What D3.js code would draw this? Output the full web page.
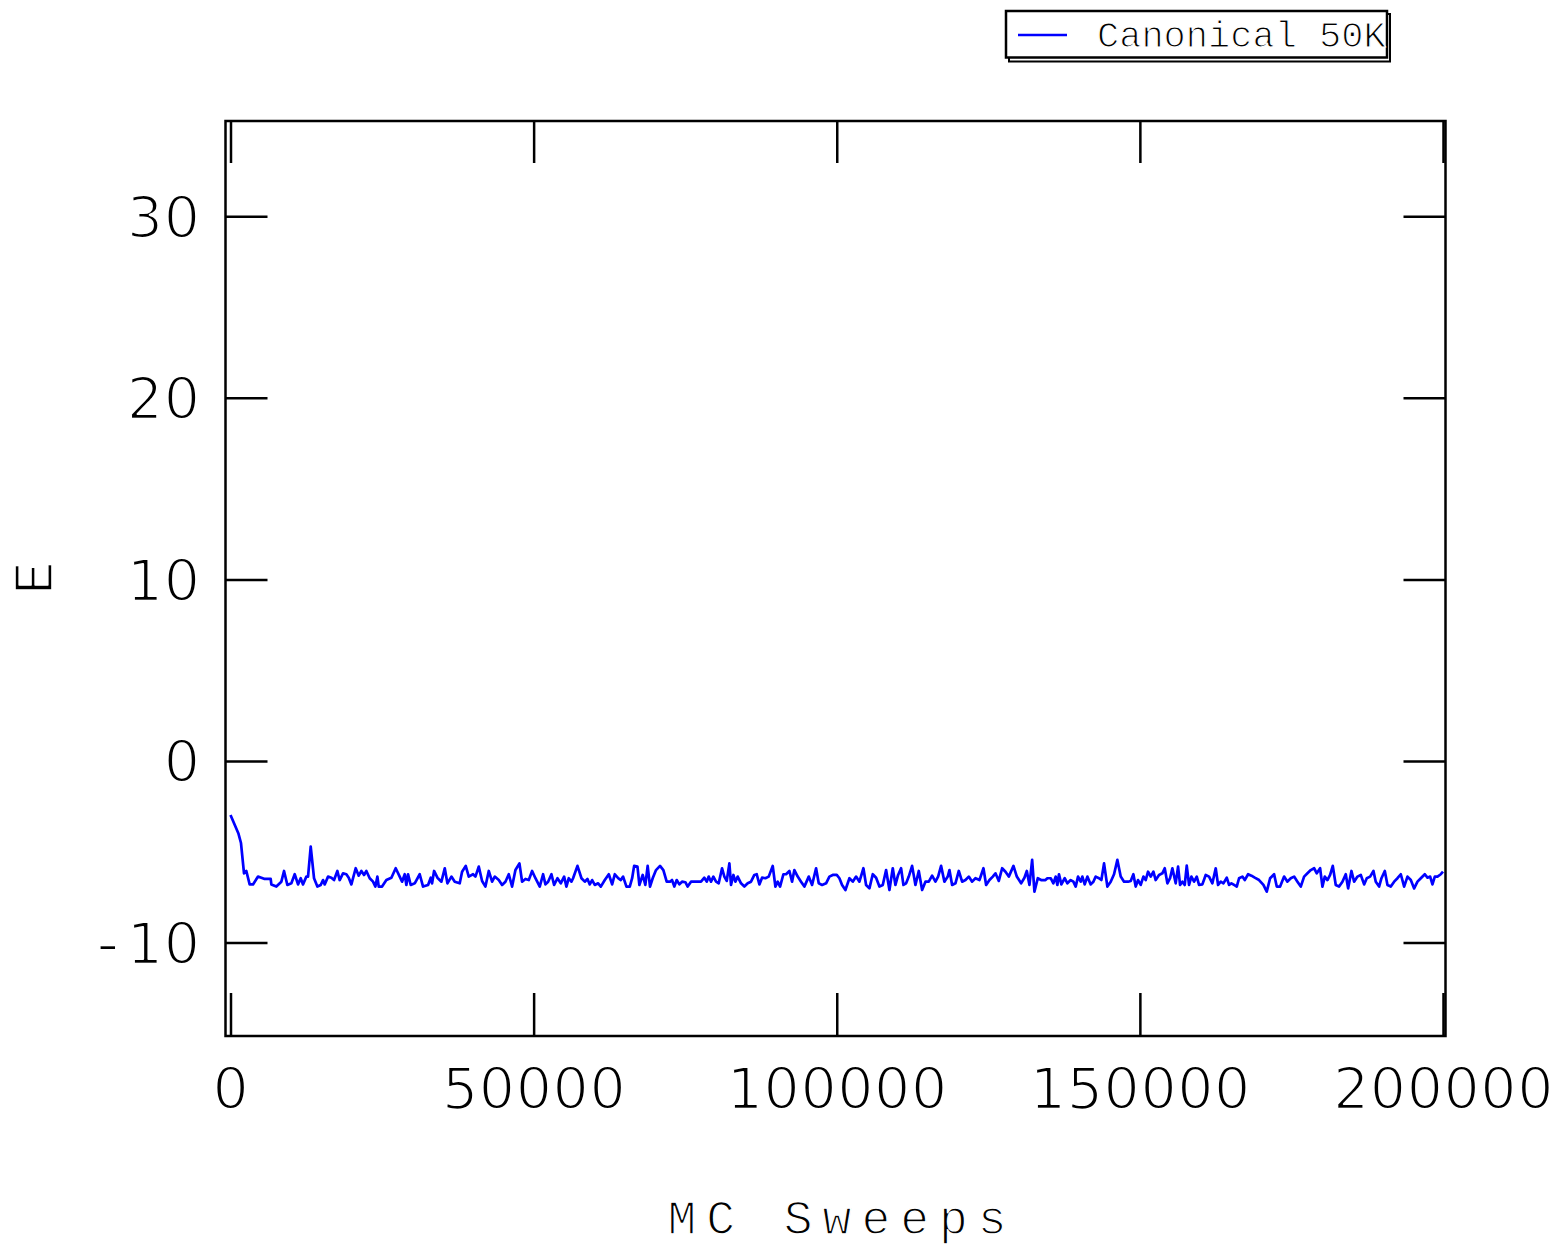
<!DOCTYPE html>
<html>
<head>
<meta charset="utf-8">
<script src="https://cdn.jsdelivr.net/npm/d3@7"></script>
<style>
body { margin: 0; background: #fff; }
</style>
</head>
<body>
<script>
// MC sweep number of each sample
const sweeps = [
  0, 1290, 1730, 2230, 2610, 3160, 3710, 4540, 5090, 5640,
  6630, 6740, 7560, 8390, 8830, 9380, 10040, 10590, 11140, 11580,
  11960, 12510, 12790, 13230, 13780, 14330, 14880, 15260, 15540, 16090,
  16640, 17080, 17630, 18010, 18560, 19110, 19500, 19940, 20650, 21150,
  21590, 22030, 22410, 22960, 23510, 23900, 24230, 24450, 25000, 25710,
  26540, 27250, 27910, 28300, 28740, 29010, 29290, 29730, 30390, 31210,
  31760, 32590, 33030, 33250, 33580, 34130, 34790, 35340, 35780, 36440,
  36990, 37810, 38200, 38800, 39300, 40010, 40400, 40950, 41500, 42050,
  42600, 43150, 43590, 44250, 44800, 45350, 45900, 46450, 47000, 47660,
  48100, 48650, 49200, 49750, 50300, 51010, 51560, 51950, 52390, 52940,
  53380, 53930, 54480, 55030, 55410, 55800, 56240, 56510, 57230, 57890,
  58440, 58880, 59260, 59650, 60090, 60640, 61080, 61740, 62400, 62950,
  63390, 63940, 64380, 64760, 65310, 65860, 66250, 66580, 67130, 67440,
  67990, 68430, 68810, 69200, 69640, 70190, 70850, 71400, 71950, 72500,
  72830, 73210, 73600, 74040, 74480, 75030, 75410, 75960, 76790, 77610,
  78160, 78550, 78880, 79260, 79650, 80090, 80530, 81080, 81460, 81850,
  82290, 82560, 82950, 83280, 83660, 84210, 84760, 85310, 85860, 86410,
  86800, 87240, 87680, 88230, 88780, 89440, 89880, 90260, 90650, 91200,
  91640, 92190, 92630, 93010, 93560, 94110, 94660, 95380, 95930, 96590,
  97030, 97580, 98240, 98790, 99340, 100000, 100440, 100880, 101430, 102090,
  102640, 103190, 103740, 104400, 104840, 105390, 105940, 106490, 107040, 107590,
  108140, 108690, 109240, 109680, 110120, 110610, 111000, 111440, 111880, 112430,
  112980, 113530, 114080, 114630, 115180, 115730, 116280, 116720, 117210, 117760,
  118310, 118590, 119030, 119580, 120130, 120680, 121230, 121780, 122330, 122880,
  123540, 124200, 124640, 125190, 125740, 126180, 126730, 127280, 127830, 128380,
  129150, 129700, 130410, 130960, 131350, 131790, 132230, 132610, 133160, 133710,
  134430, 134740, 135290, 135730, 136110, 136390, 136660, 137050, 137600, 138040,
  138590, 139030, 139410, 139800, 140240, 140510, 140900, 141340, 141890, 142330,
  142710, 143260, 143650, 144090, 144640, 145190, 145740, 146290, 146840, 147390,
  148050, 148490, 148930, 149310, 149700, 150140, 150580, 150960, 151350, 151790,
  152230, 152610, 153160, 153710, 154100, 154540, 154980, 155360, 155910, 156300,
  156630, 157010, 157400, 157730, 158110, 158500, 158940, 159380, 159760, 160310,
  160860, 161410, 161960, 162510, 162900, 163340, 163780, 164330, 164710, 165100,
  165540, 165980, 166360, 166910, 167300, 167850, 168400, 168950, 169660, 170380,
  170930, 171480, 172140, 172580, 173130, 173790, 174340, 174890, 175440, 175990,
  176540, 177090, 177640, 178190, 178740, 179180, 179730, 180110, 180500, 180940,
  181380, 181820, 182310, 182860, 183410, 183960, 184350, 184900, 185340, 185890,
  186440, 186990, 187430, 187980, 188530, 188910, 189460, 189850, 190400, 190840,
  191390, 191940, 192490, 193040, 193590, 194140, 194690, 195240, 195790, 196340,
  197000, 197440, 197880, 198260, 198650, 199090, 199640, 200000
];

// energy E at each of those sweeps
const energy = [
  -2.98, -3.98, -4.52, -6.19, -6.06, -6.80, -6.80, -6.37, -6.43, -6.50,
  -6.50, -6.80, -6.92, -6.65, -6.06, -6.83, -6.74, -6.24, -6.80, -6.46,
  -6.80, -6.37, -6.37, -4.72, -6.46, -6.92, -6.83, -6.56, -6.80, -6.37,
  -6.43, -6.56, -6.06, -6.56, -6.19, -6.24, -6.43, -6.80, -5.91, -6.32,
  -6.06, -6.28, -6.06, -6.46, -6.65, -6.92, -6.37, -6.92, -6.92, -6.56,
  -6.43, -5.91, -6.37, -6.65, -6.24, -6.83, -6.24, -6.83, -6.74, -6.24,
  -6.92, -6.83, -6.43, -6.74, -6.06, -6.43, -6.65, -5.91, -6.74, -6.37,
  -6.65, -6.74, -6.10, -5.78, -6.37, -6.24, -6.37, -5.82, -6.61, -6.92,
  -6.06, -6.65, -6.37, -6.56, -6.83, -6.65, -6.24, -6.92, -6.01, -5.64,
  -6.65, -6.50, -6.56, -6.06, -6.46, -6.92, -6.24, -6.80, -6.65, -6.24,
  -6.83, -6.46, -6.74, -6.37, -6.92, -6.46, -6.65, -6.46, -5.78, -6.46,
  -6.65, -6.50, -6.80, -6.56, -6.83, -6.74, -6.92, -6.56, -6.24, -6.80,
  -6.24, -6.46, -6.56, -6.37, -6.92, -6.92, -6.46, -5.78, -5.82, -6.83,
  -6.28, -6.83, -5.78, -6.92, -6.46, -6.01, -5.78, -6.01, -6.65, -6.65,
  -6.56, -6.92, -6.56, -6.80, -6.65, -6.68, -6.92, -6.65, -6.65, -6.65,
  -6.43, -6.65, -6.37, -6.65, -6.37, -6.65, -6.74, -5.91, -6.37, -6.61,
  -5.64, -6.83, -6.28, -6.65, -6.37, -6.74, -6.92, -6.74, -6.65, -6.28,
  -6.24, -6.80, -6.43, -6.46, -6.37, -5.78, -6.92, -6.65, -6.92, -6.24,
  -6.24, -6.06, -6.65, -6.01, -6.37, -6.65, -6.92, -6.37, -6.83, -5.91,
  -6.74, -6.83, -6.74, -6.37, -6.28, -6.28, -6.46, -6.83, -7.11, -6.46,
  -6.65, -6.37, -6.65, -5.91, -6.83, -7.02, -6.24, -6.43, -6.92, -6.83,
  -6.01, -7.11, -5.91, -6.83, -6.28, -5.91, -6.83, -6.74, -6.37, -5.78,
  -6.83, -6.06, -7.11, -6.65, -6.65, -6.32, -6.65, -6.37, -5.78, -6.65,
  -6.37, -6.01, -6.83, -6.74, -6.06, -6.65, -6.56, -6.37, -6.65, -6.46,
  -6.56, -5.91, -6.83, -6.56, -6.37, -6.19, -6.61, -5.91, -6.10, -6.37,
  -5.78, -6.37, -6.74, -6.43, -6.06, -6.83, -5.45, -7.20, -6.46, -6.56,
  -6.56, -6.46, -6.46, -6.74, -6.37, -6.83, -6.24, -6.80, -6.46, -6.74,
  -6.56, -6.65, -6.92, -6.37, -6.65, -6.37, -6.80, -6.37, -6.80, -6.65,
  -6.37, -6.46, -6.56, -5.64, -6.92, -6.65, -6.24, -5.45, -6.37, -6.65,
  -6.65, -6.61, -6.24, -6.92, -6.56, -6.83, -6.37, -6.56, -6.10, -6.37,
  -6.10, -6.56, -6.28, -6.19, -5.91, -6.74, -6.46, -5.91, -6.74, -5.82,
  -6.83, -6.65, -6.83, -5.77, -6.83, -6.37, -6.65, -6.37, -6.83, -6.80,
  -6.28, -6.37, -6.74, -5.91, -6.83, -6.65, -6.74, -6.43, -6.83, -6.74,
  -6.83, -6.92, -6.46, -6.37, -6.56, -6.24, -6.32, -6.43, -6.56, -6.83,
  -7.20, -6.46, -6.24, -6.92, -6.92, -6.37, -6.65, -6.46, -6.37, -6.65,
  -6.92, -6.37, -6.19, -6.01, -5.91, -6.19, -5.91, -6.92, -6.37, -6.56,
  -6.28, -5.78, -6.83, -6.92, -6.65, -6.24, -7.02, -6.06, -6.65, -6.37,
  -6.28, -6.80, -6.46, -6.37, -6.06, -6.65, -6.92, -6.46, -6.06, -6.83,
  -6.92, -6.65, -6.46, -6.24, -6.92, -6.37, -6.56, -7.02, -6.65, -6.46,
  -6.24, -6.43, -6.37, -6.80, -6.37, -6.37, -6.24, -6.10
];

const xTicks = [0, 50000, 100000, 150000, 200000];
const yTicks = [-10, 0, 10, 20, 30];
const seriesName = "Canonical 50K";
const xTitle = "MC Sweeps";
const yTitle = "E";

var width = 1562, height = 1260;
var frame = {left: 225.5, right: 1445.5, top: 121, bottom: 1036};
var monoFont = "'Liberation Mono', 'DejaVu Sans Mono', monospace";
var tickFont = "'DejaVu Sans', sans-serif";

var svg = d3.select("body").append("svg")
    .attr("width", width)
    .attr("height", height);

var xScale = d3.scaleLinear().domain([0, 200000]).range([230.5, 1443]);
var yScale = d3.scaleLinear().domain([-15.15, 35.25]).range([frame.bottom, frame.top]);

// a thin white outline on top of the glyphs makes them look lighter
function thin(sel, w) {
    sel.attr("stroke", "#fff").attr("stroke-width", w).attr("stroke-linejoin", "round");
}

// ticks point inwards on all four sides, labels only bottom and left
function styleAxis(g) {
    g.select(".domain").remove();
    g.selectAll(".tick line").attr("stroke", "#000").attr("stroke-width", 2.5);
    g.selectAll("text")
        .attr("font-family", tickFont)
        .attr("font-size", 57)
        .attr("letter-spacing", 0.6)
        .attr("fill", "#000")
        .call(thin, 2.2);
}

var fmt = d3.format("d");

svg.append("g")
    .attr("transform", "translate(0," + frame.bottom + ")")
    .call(d3.axisBottom(xScale).tickValues(xTicks).tickSizeInner(-43).tickSizeOuter(0).tickFormat(fmt))
    .call(styleAxis)
    .call(g => g.selectAll("text").attr("y", 73).attr("dy", null));

svg.append("g")
    .attr("transform", "translate(0," + frame.top + ")")
    .call(d3.axisTop(xScale).tickValues(xTicks).tickSizeInner(-42).tickSizeOuter(0).tickFormat(""))
    .call(styleAxis);

var yAxis = svg.append("g")
    .attr("transform", "translate(" + frame.left + ",0)")
    .call(d3.axisLeft(yScale).tickValues(yTicks).tickSizeInner(-42).tickSizeOuter(0).tickFormat(d => fmt(d).replace("\u2212", "-")))
    .call(styleAxis)
    .call(g => g.selectAll("text").attr("x", -25).attr("dy", null).attr("y", 21));

// the minus sign takes a full monospace cell, like the digits
yAxis.selectAll(".tick text")
    .filter(d => d < 0)
    .each(function(d) {
        var t = d3.select(this).text(null);
        t.append("tspan").attr("font-family", monoFont).attr("font-size", 61).text("-");
        t.append("tspan").text(fmt(-d));
    });

svg.append("g")
    .attr("transform", "translate(" + frame.right + ",0)")
    .call(d3.axisRight(yScale).tickValues(yTicks).tickSizeInner(-42).tickSizeOuter(0).tickFormat(""))
    .call(styleAxis);

// frame
svg.append("rect")
    .attr("x", frame.left)
    .attr("y", frame.top)
    .attr("width", frame.right - frame.left)
    .attr("height", frame.bottom - frame.top)
    .attr("fill", "none")
    .attr("stroke", "#000")
    .attr("stroke-width", 2.5);

// the energy trace
var line = d3.line()
    .x((d, i) => xScale(sweeps[i]))
    .y(d => yScale(d));

svg.append("path")
    .datum(energy)
    .attr("d", line)
    .attr("fill", "none")
    .attr("stroke", "#0000ff")
    .attr("stroke-width", 2.7)
    .attr("stroke-linejoin", "round");

// axis titles
svg.append("text")
    .attr("x", 842)
    .attr("y", 1234)
    .attr("text-anchor", "middle")
    .attr("font-family", monoFont)
    .attr("font-size", 48)
    .attr("letter-spacing", 10)
    .call(thin, 1.4)
    .text(xTitle);

svg.append("text")
    .attr("transform", "translate(52,578) rotate(-90)")
    .attr("text-anchor", "middle")
    .attr("font-family", monoFont)
    .attr("font-size", 55)
    .call(thin, 1.6)
    .text(yTitle);

// legend box with its drop shadow
var legend = svg.append("g");
legend.append("rect")
    .attr("x", 1009).attr("y", 14)
    .attr("width", 381).attr("height", 47.5)
    .attr("fill", "none").attr("stroke", "#000").attr("stroke-width", 2);
legend.append("rect")
    .attr("x", 1006).attr("y", 11)
    .attr("width", 381).attr("height", 46.5)
    .attr("fill", "#fff").attr("stroke", "#000").attr("stroke-width", 2.5);
legend.append("line")
    .attr("x1", 1018).attr("x2", 1067)
    .attr("y1", 35).attr("y2", 35)
    .attr("stroke", "#0000ff").attr("stroke-width", 2.4);
legend.append("text")
    .attr("x", 1097).attr("y", 47)
    .attr("font-family", monoFont)
    .attr("font-size", 37)
    .call(thin, 1.2)
    .text(seriesName);
</script>
</body>
</html>
